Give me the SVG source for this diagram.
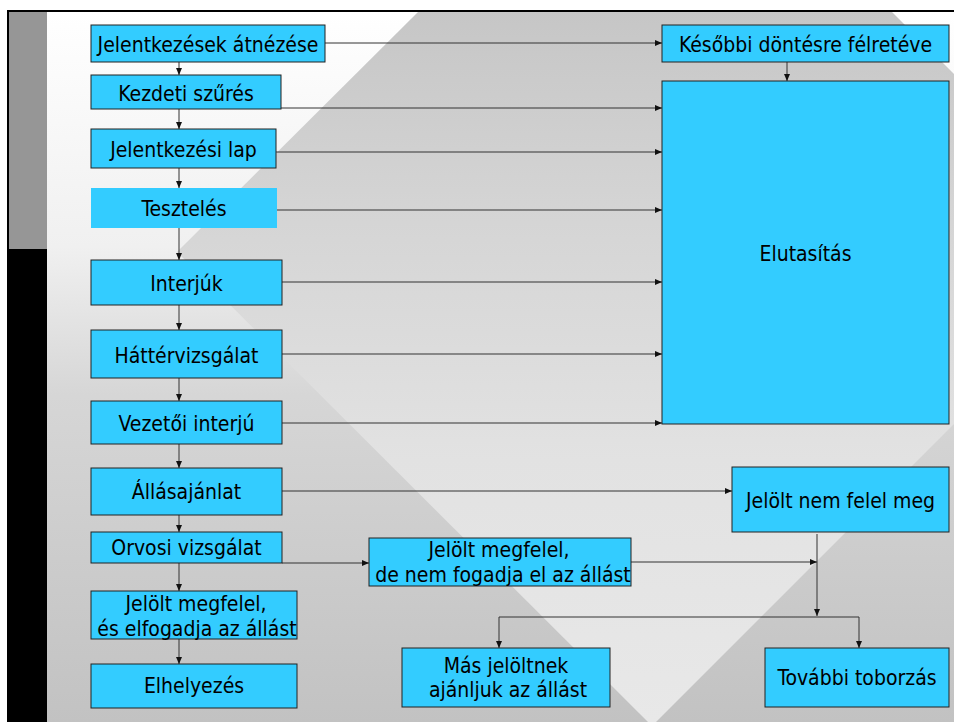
<svg xmlns="http://www.w3.org/2000/svg" width="954" height="722" viewBox="0 0 954 722">
<defs>
<linearGradient id="bg" gradientUnits="userSpaceOnUse" x1="0" y1="12" x2="0" y2="722">
<stop offset="0" stop-color="#ffffff"/>
<stop offset="0.33" stop-color="#f0f0f0"/>
<stop offset="0.54" stop-color="#d6d6d6"/>
<stop offset="1" stop-color="#c2c2c2"/>
</linearGradient>
<linearGradient id="poly" gradientUnits="userSpaceOnUse" x1="0" y1="12" x2="0" y2="722">
<stop offset="0" stop-color="#c6c6c6"/>
<stop offset="0.27" stop-color="#d4d4d4"/>
<stop offset="0.63" stop-color="#e2e2e2"/>
<stop offset="1" stop-color="#e8e8e8"/>
</linearGradient>
<marker id="ah" markerUnits="userSpaceOnUse" markerWidth="7" markerHeight="6" refX="7" refY="3" orient="auto">
<path d="M0,0 L7,3 L0,6 z" fill="#111"/>
</marker>
<style>
.n rect{fill:#33ccff;stroke:#222;stroke-width:1}
.n text{font-family:'DejaVu Sans Condensed','DejaVu Sans',sans-serif;font-stretch:condensed;font-size:21px;fill:#000;text-anchor:middle}
.c path{fill:none;stroke:#333;stroke-width:1;marker-end:url(#ah)}
.c path.p{marker-end:none}
</style>
</defs>
<g id="background">
<rect x="0" y="0" width="954" height="722" fill="#ffffff"/>
<rect x="47" y="12" width="907" height="710" fill="url(#bg)"/>
<polygon points="418,12 892,12 954,74 954,424 652,726 177,252" fill="url(#poly)"/>
<rect x="9" y="12" width="38" height="237" fill="#969696"/>
<rect x="7" y="249" width="40" height="473" fill="#000000"/>
<rect x="7" y="10" width="947" height="2" fill="#000000"/>
<rect x="7" y="10" width="2" height="712" fill="#000000"/>
</g>
<g id="connectors" class="c">
<path d="M179,62 V75"/>
<path d="M179,109 V129"/>
<path d="M179,168 V188"/>
<path d="M179,228 V260"/>
<path d="M179,305 V330"/>
<path d="M179,378 V401"/>
<path d="M179,444 V468"/>
<path d="M179,515 V532"/>
<path d="M179,563 V591"/>
<path d="M179,639 V664"/>
<path d="M325,43 H662"/>
<path d="M281,108 H662"/>
<path d="M276,152 H662"/>
<path d="M277,210 H662"/>
<path d="M282,282 H662"/>
<path d="M282,354 H662"/>
<path d="M282,423 H662"/>
<path d="M282,491 H732"/>
<path d="M282,563 H369"/>
<path d="M631,562 H817"/>
<path d="M787,62 V81"/>
<path d="M817,534 V616"/>
<path class="p" d="M499,617 H859"/>
<path d="M499,617 V648"/>
<path d="M859,617 V648"/>
</g>
<g id="n1" class="n"><rect x="91" y="25" width="234" height="37"/><text x="208" y="52">Jelentkezések átnézése</text></g>
<g id="n2" class="n"><rect x="91" y="75" width="190" height="34"/><text x="186" y="101">Kezdeti szűrés</text></g>
<g id="n3" class="n"><rect x="91" y="129" width="185" height="39"/><text x="183.5" y="157">Jelentkezési lap</text></g>
<g id="n4" class="n"><rect x="91" y="188" width="186" height="40" style="stroke:none"/><text x="184" y="216">Tesztelés</text></g>
<g id="n5" class="n"><rect x="91" y="260" width="191" height="45"/><text x="186.5" y="291">Interjúk</text></g>
<g id="n6" class="n"><rect x="91" y="330" width="191" height="48"/><text x="186.5" y="363">Háttérvizsgálat</text></g>
<g id="n7" class="n"><rect x="91" y="401" width="191" height="43"/><text x="186.5" y="431">Vezetői interjú</text></g>
<g id="n8" class="n"><rect x="91" y="468" width="191" height="47"/><text x="186.5" y="499">Állásajánlat</text></g>
<g id="n9" class="n"><rect x="91" y="532" width="191" height="31"/><text x="186.5" y="555">Orvosi vizsgálat</text></g>
<g id="n10" class="n"><rect x="91" y="591" width="206" height="48"/><text x="196" y="611">Jelölt megfelel,</text><text x="197" y="636">és elfogadja az állást</text></g>
<g id="n11" class="n"><rect x="91" y="664" width="206" height="44"/><text x="194" y="693">Elhelyezés</text></g>
<g id="n12" class="n"><rect x="662" y="25" width="287" height="37"/><text x="805.5" y="52">Későbbi döntésre félretéve</text></g>
<g id="n13" class="n"><rect x="662" y="81" width="287" height="343"/><text x="805.5" y="261">Elutasítás</text></g>
<g id="n14" class="n"><rect x="732" y="467" width="217" height="65"/><text x="840.5" y="508">Jelölt nem felel meg</text></g>
<g id="n15" class="n"><rect x="369" y="538" width="262" height="48"/><text x="499" y="557">Jelölt megfelel,</text><text x="503" y="582">de nem fogadja el az állást</text></g>
<g id="n16" class="n"><rect x="402" y="648" width="208" height="59"/><text x="506" y="673">Más jelöltnek</text><text x="508" y="697">ajánljuk az állást</text></g>
<g id="n17" class="n"><rect x="765" y="648" width="184" height="59"/><text x="857" y="685">További toborzás</text></g>
</svg>
